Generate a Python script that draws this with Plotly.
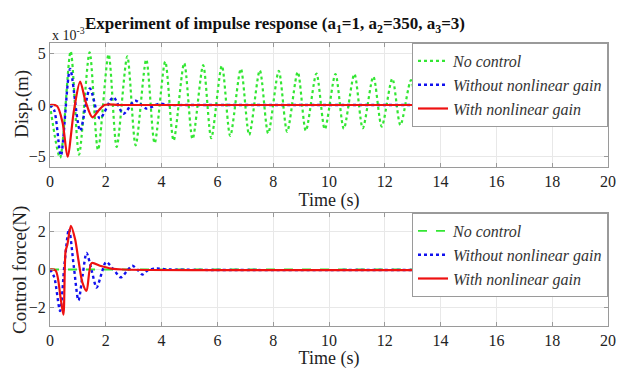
import plotly.graph_objects as go

# ---------------- data ----------------
# Displacement, in units of 1e-3 m
nc_disp_t = [0.00, 0.36, 0.74, 1.04, 1.42, 1.72, 2.10, 2.39, 2.77, 3.07, 3.45, 3.75, 4.13,
             4.43, 4.81, 5.11, 5.49, 5.78, 6.16, 6.46, 6.84, 7.14, 7.52, 7.82, 8.20, 8.50,
             8.88, 9.17, 9.55, 9.85, 10.23, 10.53, 10.91, 11.21, 11.59, 11.89, 12.27, 12.56,
             12.94, 13.24, 13.62, 13.92, 14.30, 14.60, 14.98, 15.28, 15.66, 15.95, 16.33,
             16.63, 17.01, 17.31, 17.69, 17.99, 18.37, 18.67, 19.05, 19.34, 19.72, 20.00]
nc_disp_v = [0.0, -5.1, 5.2, -4.8, 5.1, -4.35, 4.9, -4.05, 4.7, -3.9, 4.4, -3.7, 4.2,
             -3.45, 4.05, -3.3, 3.85, -3.2, 3.8, -3.0, 3.5, -2.9, 3.35, -2.75, 3.3, -2.6,
             3.2, -2.5, 3.05, -2.35, 3.0, -2.3, 3.0, -2.25, 2.75, -2.1, 2.55, -1.95,
             2.4, -1.7, 2.25, -1.5, 2.1, -1.35, 2.0, -1.35, 1.9, -1.3, 1.8,
             -1.35, 1.7, -1.2, 1.6, -1.1, 1.5, -1.05, 1.4, -1.0, 1.35, 0.5]

lin_disp_t = [0.00, 0.15, 0.39, 0.72, 1.08, 1.43, 1.79, 2.27, 2.63, 3.05, 3.46, 3.90, 4.30, 5.00, 20.00]
lin_disp_v = [0.0, -0.5, -4.9, 3.5, -2.5, 1.6, -1.3, 0.75, -0.85, 0.42, -0.35, 0.12, 0.0, 0.0, 0.0]

nl_disp_t = [0.00, 0.25, 0.45, 0.63, 0.86, 1.08, 1.28, 1.52, 1.75, 1.95, 2.10, 2.50, 20.00]
nl_disp_v = [0.0, -0.1, -1.7, -5.0, -0.5, 2.27, 0.3, -1.2, -0.5, 0.0, 0.05, 0.0, 0.0]

# Control force, N
nc_force_t = [0.0, 20.0]
nc_force_v = [0.0, 0.0]

lin_force_t = [0.00, 0.15, 0.36, 0.52, 0.68, 0.85, 1.02, 1.17, 1.31, 1.50, 1.67, 1.85, 2.01,
               2.28, 2.54, 2.75, 2.95, 3.13, 3.31, 3.50, 3.80, 4.30, 20.00]
lin_force_v = [0.0, -0.4, -2.2, 0.3, 2.15, 0.2, -1.64, -0.3, 0.88, -0.1, -0.96, -0.2, 0.40,
               0.0, -0.42, -0.1, 0.2, 0.0, -0.27, -0.05, 0.05, 0.0, 0.0]

nl_force_t = [0.00, 0.20, 0.38, 0.48, 0.56, 0.62, 0.75, 0.90, 1.02, 1.16, 1.31, 1.49, 1.79, 2.20, 2.60, 20.00]
nl_force_v = [0.0, -0.05, -1.5, -2.4, 1.0, 1.3, 2.32, 1.6, 0.49, -0.68, -1.13, 0.34, 0.2, 0.05, 0.0, 0.0]

x_ticks = [0, 2, 4, 6, 8, 10, 12, 14, 16, 18, 20]
disp_ticks = [-5, 0, 5]
force_ticks = [-2, 0, 2]

names = ["No control", "Without nonlinear gain", "With nonlinear gain"]

# ---------------- styling ----------------
FONT = "Liberation Serif, Times New Roman, serif"
GREEN = "#33e633"
BLUE = "#1010ee"
RED = "#ee1111"

fig = go.Figure()

def add(t, v, name, color, dash, width, yaxis, legend):
    fig.add_trace(go.Scatter(
        x=t, y=v, name=name, mode="lines",
        line=dict(color=color, dash=dash, width=width, shape="spline", smoothing=0.8),
        xaxis="x" if yaxis == "y" else "x2", yaxis=yaxis, legend=legend))

add(nc_disp_t, nc_disp_v, names[0], GREEN, "dot", 2.2, "y", "legend")
add(lin_disp_t, lin_disp_v, names[1], BLUE, "dot", 2.4, "y", "legend")
add(nl_disp_t, nl_disp_v, names[2], RED, "solid", 2.2, "y", "legend")

add(nc_force_t, nc_force_v, names[0], GREEN, "dash", 1.8, "y2", "legend2")
add(lin_force_t, lin_force_v, names[1], BLUE, "dot", 2.4, "y2", "legend2")
add(nl_force_t, nl_force_v, names[2], RED, "solid", 2.2, "y2", "legend2")

# The page body adds an 8px offset, so the figure is laid out 8px up/left.
W, H = 621, 361
L, T = 42, 35
R = W - 600
B = H - 318
ph = H - T - B
pw = W - L - R
top_dom = [(318 - 159) / ph, 1.0]
bot_dom = [0.0, (318 - 205) / ph]

axis_common = dict(
    showline=True, mirror="ticks", linecolor="#9a9a9a", linewidth=1,
    ticks="inside", ticklen=4, tickcolor="#9a9a9a",
    showgrid=True, gridcolor="#e8e8e8", gridwidth=1, zeroline=False,
    automargin=False,
    tickfont=dict(family=FONT, size=16, color="#222222"),
)

legend_common = dict(
    xanchor="right", yanchor="top", x=1.0,
    bgcolor="white", bordercolor="#9a9a9a", borderwidth=1,
    font=dict(family=FONT, size=16, color="#333333", style="italic"),
    itemwidth=30, tracegroupgap=0,
)

def px_x(x):  # screen x -> paper x
    return (x - 8 - L) / pw

def px_y(y):  # screen y -> paper y
    return 1 - (y - 8 - T) / ph

fig.update_layout(
    width=W, height=H,
    margin=dict(l=L, r=R, t=T, b=B, autoexpand=False),
    paper_bgcolor="white", plot_bgcolor="white",
    font=dict(family=FONT, color="#222222"),
    title=dict(
        text="<b>Experiment of impulse response (a<sub>1</sub>=1, a<sub>2</sub>=350, a<sub>3</sub>=3)</b>",
        x=267 / W, xanchor="center", y=1 - 15 / H, yanchor="middle", automargin=False,
        font=dict(family=FONT, size=17, color="#111111")),
    xaxis=dict(axis_common, domain=[0, 1], range=[0, 20], tickvals=x_ticks, anchor="y",
               title=dict(text="Time (s)", font=dict(family=FONT, size=18), standoff=0)),
    yaxis=dict(axis_common, domain=top_dom, range=[-6, 6], tickvals=disp_ticks, anchor="x"),
    xaxis2=dict(axis_common, domain=[0, 1], range=[0, 20], tickvals=x_ticks, anchor="y2",
                title=dict(text="Time (s)", font=dict(family=FONT, size=18), standoff=0)),
    yaxis2=dict(axis_common, domain=bot_dom, range=[-3, 3], tickvals=force_ticks, anchor="x2"),
    legend=dict(legend_common, y=top_dom[1]),
    legend2=dict(legend_common, y=bot_dom[1]),
    annotations=[
        dict(text="x 10<sup>-3</sup>", xref="paper", yref="paper",
             x=0, xanchor="left", y=1 + 9 / ph, yanchor="middle", showarrow=False,
             font=dict(family=FONT, size=14, color="#222222")),
        dict(text="Disp.(m)", xref="paper", yref="paper", textangle=-90,
             x=px_x(22), xanchor="center", y=px_y(104), yanchor="middle", showarrow=False,
             font=dict(family=FONT, size=19, color="#222222")),
        dict(text="Control force(N)", xref="paper", yref="paper", textangle=-90,
             x=px_x(20), xanchor="center", y=px_y(270), yanchor="middle", showarrow=False,
             font=dict(family=FONT, size=19, color="#222222")),
    ],
)

fig.write_html("out.html")
